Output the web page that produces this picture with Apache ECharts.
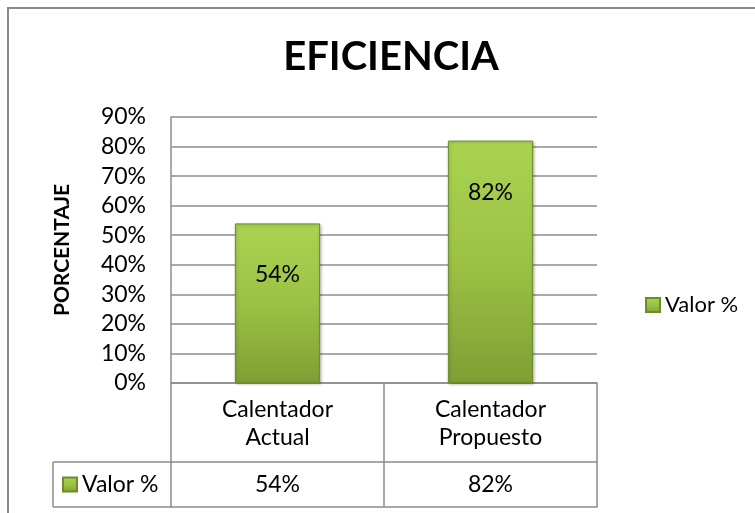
<!DOCTYPE html>
<html>
<head>
<meta charset="utf-8">
<script src="https://cdn.jsdelivr.net/npm/echarts@6/dist/echarts.min.js"></script>
<style>
  html, body { margin: 0; padding: 0; background: #fff; }
  #chart { width: 755px; height: 513px; position: relative; }
  #frame { position: absolute; left: 7px; top: 7px; width: 800px; height: 600px;
           border-left: 2px solid #8a8a8a; border-top: 2px solid #8a8a8a; pointer-events: none; }
</style>
</head>
<body>
<div id="chart"></div>
<div id="frame"></div>
<script>
const categories = ['Calentador\nActual', 'Calentador\nPropuesto'];
const values = [0.54, 0.82];
const seriesName = 'Valor %';
const yMax = 0.9;
const yStep = 0.1;

const pct = v => Math.round(v * 100) + '%';
const FONT = 'Lato, "Open Sans", sans-serif';
const GRID = '#8c8c8c';

// plot area box
const gl = 171, gr = 597, gt = 117, gb = 383;
const row1 = 79, row2 = 124;   // table row bottoms, below x axis
const tableLeft = 53;

const barColor = new echarts.graphic.LinearGradient(0, 0, 0, 1, [
  { offset: 0, color: '#abd351' },
  { offset: 0.5, color: '#9bc244' },
  { offset: 1, color: '#7f9f34' },
]);

const chart = echarts.init(document.getElementById('chart'));
chart.setOption({
  animation: false,
  textStyle: { fontFamily: FONT },
  title: {
    text: 'EFICIENCIA',
    left: 386,
    textAlign: 'center',
    top: 32,
    textStyle: { fontFamily: FONT, fontSize: 40, fontWeight: 'bold', color: '#000' },
  },
  legend: [
    {
      data: [seriesName],
      left: 640,
      top: 289,
      icon: 'rect',
      itemWidth: 14,
      itemHeight: 14,
      itemGap: 6,
      textStyle: { fontSize: 22, color: '#000', fontFamily: FONT },
    },
    {
      data: [seriesName],
      left: 57,
      top: 468,
      icon: 'rect',
      itemWidth: 14,
      itemHeight: 14,
      textStyle: { fontSize: 23, color: '#000', fontFamily: FONT },
    },
  ],
  grid: { left: gl, right: 755 - gr, top: gt, bottom: 513 - gb, containLabel: false },
  xAxis: [
    {
      type: 'category',
      data: categories,
      axisLine: { lineStyle: { color: GRID, width: 1.5 } },
      axisTick: { show: true, length: row2, lineStyle: { color: GRID, width: 1.5 } },
      axisLabel: { fontSize: 23, color: '#000', lineHeight: 28, margin: 13, fontFamily: FONT },
    },
    {
      type: 'category',
      position: 'bottom',
      offset: row1,
      data: values.map(pct),
      axisLine: { show: true, lineStyle: { color: GRID, width: 1.5 } },
      axisTick: { show: false },
      axisLabel: { fontSize: 23, color: '#000', margin: 11, fontFamily: FONT },
    },
    {
      type: 'category',
      position: 'bottom',
      offset: row2,
      data: categories,
      axisLine: { show: true, lineStyle: { color: GRID, width: 1.5 } },
      axisTick: { show: false },
      axisLabel: { show: false },
    },
  ],
  yAxis: {
    type: 'value',
    min: 0,
    max: yMax,
    interval: yStep,
    name: 'PORCENTAJE',
    nameLocation: 'middle',
    nameGap: 98,
    nameTextStyle: { fontSize: 21, fontWeight: 'bold', color: '#000', fontFamily: FONT },
    axisLine: { show: true, lineStyle: { color: GRID, width: 1.5 } },
    axisTick: { show: false },
    axisLabel: { formatter: pct, fontSize: 23, color: '#000', margin: 25, fontFamily: FONT },
    splitLine: { lineStyle: { color: GRID, width: 1.5 } },
  },
  series: [
    {
      name: seriesName,
      type: 'bar',
      data: values,
      barWidth: '40%',
      itemStyle: {
        color: barColor,
        borderColor: '#6f8c2c',
        borderWidth: 1,
        shadowColor: 'rgba(0,0,0,0.25)',
        shadowBlur: 3,
        shadowOffsetX: 1,
        shadowOffsetY: 1,
      },
      label: {
        show: true,
        position: 'insideTop',
        distance: 40,
        formatter: p => pct(p.value),
        fontSize: 23,
        color: '#000',
        fontFamily: FONT,
      },
    },
  ],
  graphic: [
    // left header cell of the data table
    { type: 'line', shape: { x1: tableLeft, y1: gb + row1, x2: gl, y2: gb + row1 },
      style: { stroke: GRID, lineWidth: 1.5 } },
    { type: 'line', shape: { x1: tableLeft, y1: gb + row2, x2: gl, y2: gb + row2 },
      style: { stroke: GRID, lineWidth: 1.5 } },
    { type: 'line', shape: { x1: tableLeft, y1: gb + row1, x2: tableLeft, y2: gb + row2 },
      style: { stroke: GRID, lineWidth: 1.5 } },
  ],
});
</script>
</body>
</html>
